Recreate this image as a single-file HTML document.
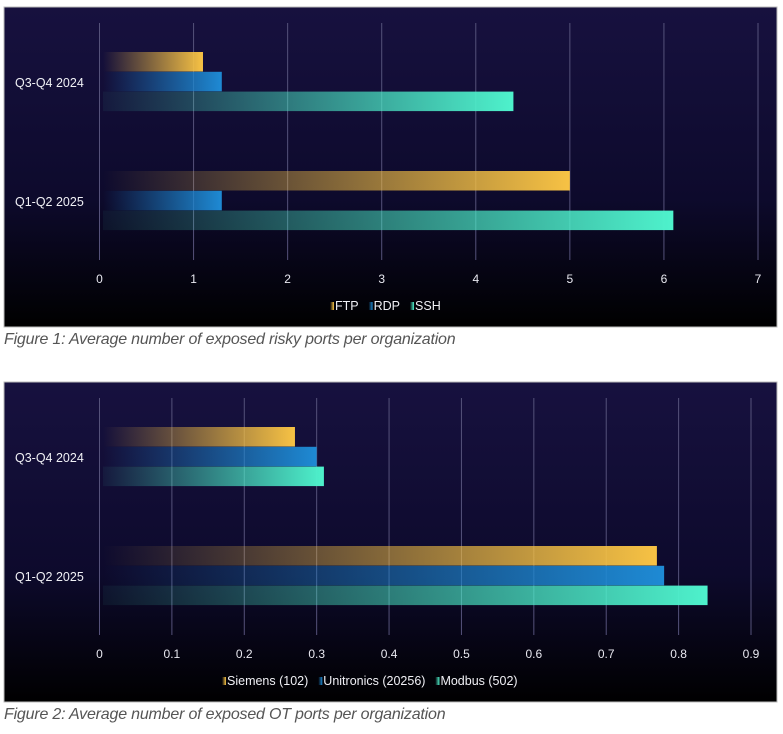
<!DOCTYPE html>
<html><head><meta charset="utf-8"><style>
body{margin:0;background:#fff;width:783px;height:734px;overflow:hidden;font-family:"Liberation Sans",sans-serif}
.cap{position:absolute;left:4px;font-style:italic;font-size:16px;color:#555;letter-spacing:-0.2px}
</style></head><body>
<svg id="svg" width="783" height="734" style="position:absolute;left:0;top:0">
<defs>
<linearGradient id="bg" x1="0" y1="0" x2="0" y2="1"><stop offset="0" stop-color="#17113f"/><stop offset="0.6" stop-color="#0d0a2c"/><stop offset="1" stop-color="#000"/></linearGradient>
<linearGradient id="g0" x1="0" x2="1"><stop offset="0" stop-color="#f7c244" stop-opacity="0"/><stop offset="1" stop-color="#f7c244"/></linearGradient>
<linearGradient id="g1" x1="0" x2="1"><stop offset="0" stop-color="#1e88d0" stop-opacity="0"/><stop offset="1" stop-color="#1e8ad4"/></linearGradient>
<linearGradient id="g2" x1="0" x2="1"><stop offset="0" stop-color="#4ef0cc" stop-opacity="0.05"/><stop offset="1" stop-color="#4ef2cc"/></linearGradient>
</defs>
</svg>
<div class="cap" style="top:331px">Figure 1: Average number of exposed risky ports per organization</div>
<div class="cap" style="top:706px">Figure 2: Average number of exposed OT ports per organization</div>
<script>
const categories=["Q3-Q4 2024","Q1-Q2 2025"];
const series1Names=["FTP","RDP","SSH"];
const ftp=[1.1,5];
const rdp=[1.3,1.3];
const ssh=[4.4,6.1];
const ticks1=[0,1,2,3,4,5,6,7];
const series2Names=["Siemens (102)","Unitronics (20256)","Modbus (502)"];
const siemens=[0.27,0.77];
const unitronics=[0.30,0.78];
const modbus=[0.31,0.84];
const ticks2=[0,0.1,0.2,0.3,0.4,0.5,0.6,0.7,0.8,0.9];

const NS="http://www.w3.org/2000/svg";
const svg=document.getElementById('svg');
function mk(t,a,p){const e=document.createElementNS(NS,t);for(const k in a)e.setAttribute(k,a[k]);(p||svg).appendChild(e);return e;}
function chart(top,series,names,ticks,maxV,xMaxPx,id,legendX){
  const g=mk('g',{});
  
  
  const bgR=mk('rect',{x:4,y:top,width:773,height:320,fill:'url(#bg)',stroke:'#bbb','stroke-width':1},g);
  
  
  const x0=99.5;const sx=v=>x0+(xMaxPx-x0)*v/maxV;
  ticks.forEach(t=>{
    const l=mk('line',{x1:sx(t),x2:sx(t),y1:top+16,y2:top+253,stroke:'#55527a','stroke-width':1},g);
    
    
    const tx=mk('text',{x:sx(t),y:top+276,fill:'#e8e8f0','font-size':12,'text-anchor':'middle'},g);
    
    
    tx.textContent=String(t);
  });
  const groupTop=[top+45,top+164];
  categories.forEach((c,ci)=>{
    const lb=mk('text',{x:15,y:groupTop[ci]+35,fill:'#f0f0f5','font-size':12.5},g);
    
    
    lb.textContent=c;
    series.forEach((s,si)=>{
      const bx=103;
      const r=mk('rect',{x:bx,y:groupTop[ci]+si*19.8,width:Math.max(0,sx(s[ci])-bx),height:19.5,fill:'url(#g'+si+')'},g);
      
      
    });
  });
  let lx=legendX;
  names.forEach((n,i)=>{
    const sw=mk('rect',{x:lx,y:top+295,width:4,height:8,fill:'url(#g'+i+')'},g);
    
    
    const t=mk('text',{x:lx+5,y:top+303,fill:'#f0f0f5','font-size':12.5},g);
    
    
    t.textContent=n;
    lx+=5+t.getComputedTextLength()+10;
  });
}
chart(7,[ftp,rdp,ssh],series1Names,ticks1,7,758,'chart-risky-ports',330);
chart(382,[siemens,unitronics,modbus],series2Names,ticks2,0.9,751,'chart-ot-ports',222);
</script>
</body></html>
